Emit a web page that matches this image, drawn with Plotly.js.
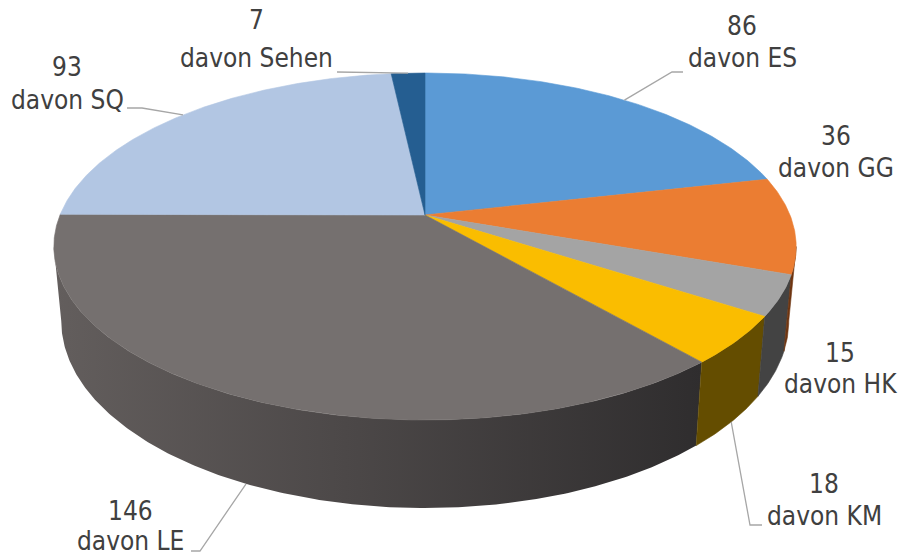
<!DOCTYPE html>
<html>
<head>
<meta charset="utf-8">
<script src="https://cdn.plot.ly/plotly-3.0.1.min.js"></script>
<style>html,body{margin:0;padding:0;background:#fff;}#chart{width:899px;height:557px;}</style>
</head>
<body>
<div id="chart"></div>
<script>
// ---- data ----
const categories = ['ES', 'GG', 'HK', 'KM', 'LE', 'SQ', 'Sehen'];
const values = [86, 36, 15, 18, 146, 93, 7];
const labelPrefix = 'davon ';

// ---- styles ----
const topColors = ['#5b9ad5', '#eb7d32', '#a4a4a4', '#fabd00', '#75706f', '#b2c6e3', '#255e91'];
const wallColors = ['#5b3410', '#6e3511', '#434343', '#644d00', '#4a4646', '#7f93b0', '#163a5c'];
const wallGradients = [null, null, null, null, [[0, '#635e5d'], [0.45, '#4c4848'], [1, '#2f2d2e']], null, null];
// label placement (value line, name line), leader elbow points (label side)
const labelPos = [
  {x: 742, y1: 26, y2: 58, leader: [[683, 72], [672, 72]], rim: 0},
  {x: 836, y1: 136, y2: 168, leader: null},
  {x: 840, y1: 353, y2: 384, leader: null},
  {x: 824, y1: 484, y2: 516, leader: [[762, 525], [750, 525]], rim: 1},
  {x: 130, y1: 511, y2: 541, leader: [[191, 551], [200, 551]], rim: 1},
  {x: 67, y1: 67, y2: 100, leader: [[127, 108], [142, 108]], rim: 0},
  {x: 256, y1: 20, y2: 58, leader: [[337, 72]], rim: 0}
];

// ---- perspective projection of the 3D pie ----
const CX = 425, CY = 215, A = 365, B = 167.8, K = 0.1816, H = 72, SX = 0.98;
function proj(deg, level) {
  const t = deg * Math.PI / 180;
  const s = Math.sin(t), c = Math.cos(t), d = 1 + K * c;
  const x = CX + (A * s / d) * (level ? SX : 1);
  const y = CY - B * c / d + (level ? H / d : 0);
  return [x, y];
}
function arc(a1, a2, level) {
  const pts = [];
  const n = Math.max(2, Math.ceil(Math.abs(a2 - a1) / 0.5));
  for (let i = 0; i <= n; i++) pts.push(proj(a1 + (a2 - a1) * i / n, level));
  return pts;
}

const total = values.reduce((a, b) => a + b, 0);
const starts = [], ends = [];
let acc = 0;
values.forEach(v => { starts.push(acc / total * 360); acc += v; ends.push(acc / total * 360); });

const visMin = Math.acos(-K) * 180 / Math.PI, visMax = 360 - visMin;
const traces = [];

// walls (farthest first)
const order = categories.map((_, i) => i).sort((i, j) => {
  const mi = (starts[i] + ends[i]) / 2, mj = (starts[j] + ends[j]) / 2;
  return Math.cos(mj * Math.PI / 180) - Math.cos(mi * Math.PI / 180);
}).reverse();
order.forEach(i => {
  const a1 = Math.max(starts[i], visMin), a2 = Math.min(ends[i], visMax);
  if (a2 <= a1) return;
  const pts = arc(a1, a2, 0).concat(arc(a2, a1, 1));
  pts.push(pts[0]);
  const tr = {
    type: 'scatter', mode: 'lines', x: pts.map(p => p[0]), y: pts.map(p => p[1]),
    fill: 'toself', fillcolor: wallColors[i],
    line: {color: wallColors[i], width: 0.6}, hoverinfo: 'skip'
  };
  if (wallGradients[i]) {
    tr.fillgradient = {type: 'horizontal', colorscale: wallGradients[i]};
    tr.line = {width: 0};
  }
  traces.push(tr);
});

// top faces
categories.forEach((c, i) => {
  const pts = [[CX, CY]].concat(arc(starts[i], ends[i], 0));
  pts.push([CX, CY]);
  traces.push({
    type: 'scatter', mode: 'lines', x: pts.map(p => p[0]), y: pts.map(p => p[1]),
    fill: 'toself', fillcolor: topColors[i],
    line: {color: topColors[i], width: 0.6}, hoverinfo: 'skip'
  });
});

// leader lines
categories.forEach((c, i) => {
  const lp = labelPos[i];
  if (!lp.leader) return;
  const mid = (starts[i] + ends[i]) / 2;
  const anchor = proj(mid, lp.rim);
  const pts = lp.leader.concat([anchor]);
  traces.push({
    type: 'scatter', mode: 'lines', x: pts.map(p => p[0]), y: pts.map(p => p[1]),
    line: {color: '#a6a6a6', width: 1.3}, hoverinfo: 'skip'
  });
});

const font = {family: '"DejaVu Sans Condensed", "Liberation Sans", sans-serif', size: 26, color: '#404040'};
const annotations = [];
categories.forEach((c, i) => {
  const lp = labelPos[i];
  annotations.push({x: lp.x, y: lp.y1, xref: 'x', yref: 'y', text: String(values[i]), showarrow: false, font: font, xanchor: 'center', yanchor: 'middle'});
  annotations.push({x: lp.x, y: lp.y2, xref: 'x', yref: 'y', text: labelPrefix + c, showarrow: false, font: font, xanchor: 'center', yanchor: 'middle'});
});

const layout = {
  width: 899, height: 557,
  margin: {l: 0, r: 0, t: 0, b: 0},
  paper_bgcolor: '#ffffff', plot_bgcolor: '#ffffff',
  showlegend: false,
  xaxis: {range: [0, 899], visible: false, fixedrange: true},
  yaxis: {range: [557, 0], visible: false, fixedrange: true},
  annotations: annotations
};
Plotly.newPlot('chart', traces, layout, {staticPlot: true, displayModeBar: false});
</script>
</body>
</html>
